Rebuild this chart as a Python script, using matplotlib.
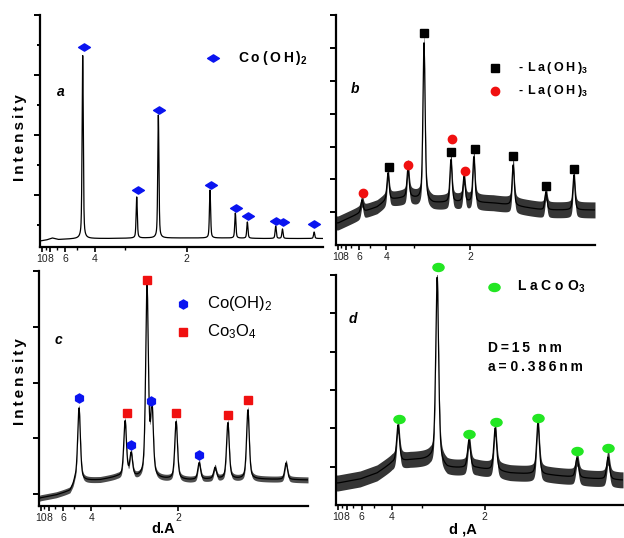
import numpy as np
import matplotlib
matplotlib.use('Agg')
import matplotlib.pyplot as plt
from matplotlib.path import Path

plt.rcParams['font.family'] = ['Liberation Sans', 'DejaVu Sans']
plt.rcParams['mathtext.fontset'] = 'custom'
plt.rcParams['mathtext.rm'] = 'Liberation Sans'
plt.rcParams['mathtext.bf'] = 'Liberation Sans:bold'
plt.rcParams['mathtext.it'] = 'Liberation Sans:italic'

# ---------------- data ----------------
WAVELENGTH = 1.5406                 # Cu K-alpha, Angstrom
X_RANGE = (8.41, 79.6)              # 2-theta range, degrees
d_major = [10, 8, 6, 4, 2]
d_major_labels = ['10', '8', '6', '4', '2']
d_minor = [9, 7, 5, 3]

# panel a : Co(OH)2
a_bg_pos = [8.4, 10.0, 11.5, 13.0, 16.0, 19.0, 25.0, 35.0, 45.0, 55.0, 65.0, 79.6]
a_bg_int = [6.0, 7.0, 9.0, 7.5, 8.0, 8.5, 8.5, 9.0, 9.0, 9.0, 8.5, 8.5]
a_peak_pos = [19.15, 32.74, 38.18, 51.18, 57.55, 60.57, 67.70, 69.40, 77.37]
a_peak_int = [192, 50, 132, 57, 34, 25, 21, 18, 15]
a_mark_pos = [19.48, 33.06, 38.35, 51.35, 57.65, 60.67, 67.79, 69.47, 77.35]
a_mark_int = [200, 57, 137, 62, 39, 31, 26, 25, 23]

# panel b : La(OH)3 (two sets)
b_bg_pos = [8.4, 9.0, 15.0, 19.7, 22.4, 28.7, 35.1, 42.5, 51.6, 56.2, 65.3, 72.7, 79.6]
b_bg_int = [22, 22, 32, 38, 45, 48, 42, 43, 42, 40, 35, 35, 35]
b_noise = [7, 7, 7, 7, 7, 8, 7, 8, 8, 8, 8, 8, 8]
b_peak_pos = [15.56, 22.70, 28.20, 32.60, 40.00, 43.60, 46.30, 57.10, 66.10, 73.80]
b_peak_int = [45, 72, 77, 202, 85, 68, 88, 80, 53, 70]
b_sq_pos = [22.98, 32.60, 40.00, 46.60, 57.06, 66.10, 73.80]
b_sq_int = [78, 212, 93, 96, 89, 59, 76]
b_dot_pos = [15.83, 28.20, 40.30, 43.90]
b_dot_int = [52, 80, 106, 74]

# panel c : Co(OH)2 + Co3O4
c_bg_pos = [8.4, 8.7, 13.0, 16.6, 17.4, 17.9, 24.6, 29.1, 40.4, 48.4, 55.0, 64.3, 79.6]
c_bg_int = [7, 8, 11, 15, 20, 25, 26, 29, 27, 26, 27, 27, 26]
c_noise = [3, 3, 3, 3, 3, 3, 3, 3, 3, 3, 3, 3, 3]
c_peak_pos = [19.00, 31.20, 32.80, 37.00, 38.30, 44.70, 50.80, 55.00, 58.40, 63.70, 73.80]
c_peak_int = [98, 84, 51, 218, 96, 84, 43, 38, 83, 96, 43]
c_hex_pos = [19.00, 32.80, 38.05, 50.80]
c_hex_int = [108, 61, 105, 51]
c_sq_pos = [31.70, 37.00, 44.70, 58.40, 63.70]
c_sq_int = [93, 226, 93, 91, 106]

# panel d : LaCoO3
d_bg_pos = [8.4, 8.9, 14.4, 18.6, 22.3, 26.8, 31.7, 36.0, 43.4, 51.6, 61.5, 69.7, 78.9, 79.6]
d_bg_int = [22, 22, 26, 32, 42, 45, 46, 37, 37, 32, 30, 27, 25, 25]
d_noise = [8, 8, 8, 8, 8, 8, 8, 8, 8, 8, 8, 8, 8, 8]
d_peak_pos = [23.80, 33.50, 41.40, 47.90, 58.50, 68.20, 75.90]
d_peak_int = [80, 228, 65, 77, 82, 47, 48]
d_mark_pos = [24.05, 33.70, 41.40, 48.10, 58.50, 68.20, 75.90]
d_mark_int = [86, 238, 71, 83, 87, 54, 57]

# ---------------- helpers ----------------
W, H = 624, 538
TS = '\u2009'


def two_theta(d):
    return 2 * np.degrees(np.arcsin(WAVELENGTH / (2 * np.asarray(d, float))))


def rect(l, t, r, b):
    return [l / W, 1 - b / H, (r - l) / W, (b - t) / H]


def profile(x, x0, fwhm):
    u = (x - x0) / (fwhm / 2)
    return 0.5 / (1 + u ** 2) + 0.5 * np.exp(-np.log(2) * u ** 2)


def trace(bg_pos, bg_int, pk_pos, pk_int, fwhm):
    x = np.linspace(X_RANGE[0], X_RANGE[1], 3000)
    y = np.interp(x, bg_pos, bg_int)
    for p, h in zip(pk_pos, pk_int):
        y = y + (h - np.interp(p, bg_pos, bg_int)) * profile(x, p, fwhm)
    return x, y


def spaced(s):
    return TS.join(s)


def setup(ax, height, yticks_major, yticks_minor=None):
    ax.set_xlim(*X_RANGE)
    ax.set_ylim(0, height)
    for s in ['top', 'right']:
        ax.spines[s].set_visible(False)
    for s in ['left', 'bottom']:
        ax.spines[s].set_linewidth(1.6)
    ax.set_xticks(two_theta(d_major))
    ax.set_xticklabels(d_major_labels)
    ax.set_xticks(two_theta(d_minor), minor=True)
    ax.set_yticks(yticks_major)
    ax.set_yticklabels([])
    if yticks_minor is not None:
        ax.set_yticks(yticks_minor, minor=True)
    ax.tick_params(axis='x', which='major', length=3.5, width=1.2, labelsize=7.5,
                   pad=1.5, labelcolor='#222222')
    ax.tick_params(axis='x', which='minor', length=2.5, width=1.0)
    ax.tick_params(axis='y', which='major', length=4.5, width=1.4)
    ax.tick_params(axis='y', which='minor', length=2.5, width=1.4)


fig = plt.figure(figsize=(W / 100, H / 100), dpi=100)

# ---------------- panel a ----------------
axa = fig.add_axes(rect(40, 15, 323, 247))
setup(axa, 232, [52, 112, 172, 232], [22, 82, 142, 202])
x, y = trace(a_bg_pos, a_bg_int, a_peak_pos, a_peak_int, 0.35)
axa.plot(x, y, color='black', lw=0.9)
diamond = Path([(-1, 0), (0, 0.62), (1, 0), (0, -0.62), (-1, 0)],
               [Path.MOVETO, Path.LINETO, Path.LINETO, Path.LINETO, Path.CLOSEPOLY])
axa.plot(a_mark_pos, a_mark_int, ls='none', marker=diamond, ms=8.5, color='#0a14f0', clip_on=False)
axa.plot([0.61], [0.813], transform=axa.transAxes, marker=diamond, ms=8.5, color='#0a14f0', ls='none')
axa.text(0.70, 0.813, spaced('Co(OH)') + r'$_\mathbf{2}$', transform=axa.transAxes,
         fontsize=10, fontweight='bold', va='center', ha='left')
axa.text(0.074, 0.668, 'a', transform=axa.transAxes, fontsize=10, fontweight='bold',
         fontstyle='italic', va='center', ha='center')

# ---------------- panel b ----------------
axb = fig.add_axes(rect(336, 15, 595, 245))
setup(axb, 230, [32.8 * k for k in range(1, 8)])
x, y = trace(b_bg_pos, b_bg_int, b_peak_pos, b_peak_int, 0.7)
nb = np.interp(x, b_bg_pos, b_noise)
axb.fill_between(x, y - nb, y + nb, color='#111111', alpha=0.85, lw=0)
axb.plot(x, y, color='black', lw=0.9)
axb.plot(b_sq_pos, b_sq_int, ls='none', marker='s', ms=5.5, color='black', clip_on=False)
axb.plot(b_dot_pos, b_dot_int, ls='none', marker='o', ms=6, color='#f01010', clip_on=False)
axb.plot([0.614], [0.770], transform=axb.transAxes, marker='s', ms=5.5, color='black', ls='none')
axb.plot([0.614], [0.670], transform=axb.transAxes, marker='o', ms=6, color='#f01010', ls='none')
for yy in (0.770, 0.670):
    axb.text(0.703, yy, '-' + TS * 2 + spaced('La(OH)') + r'$_\mathbf{3}$', transform=axb.transAxes,
             fontsize=9, fontweight='bold', va='center', ha='left')
axb.text(0.073, 0.678, 'b', transform=axb.transAxes, fontsize=10, fontweight='bold',
         fontstyle='italic', va='center', ha='center')

# ---------------- panel c ----------------
axc = fig.add_axes(rect(39, 271, 308, 506))
setup(axc, 235, [12 + 55.75 * k for k in range(5)])
x, y = trace(c_bg_pos, c_bg_int, c_peak_pos, c_peak_int, 0.85)
nc = np.interp(x, c_bg_pos, c_noise)
axc.fill_between(x, y - nc, y + nc, color='#111111', alpha=0.75, lw=0)
axc.plot(x, y, color='black', lw=0.9)
axc.plot(c_hex_pos, c_hex_int, ls='none', marker='h', ms=6.5, color='#0a14f0', clip_on=False)
axc.plot(c_sq_pos, c_sq_int, ls='none', marker='s', ms=5.5, color='#f01010', clip_on=False)
axc.plot([0.535], [0.860], transform=axc.transAxes, marker='h', ms=6.5, color='#0a14f0', ls='none')
axc.plot([0.535], [0.740], transform=axc.transAxes, marker='s', ms=5.5, color='#f01010', ls='none')
axc.text(0.625, 0.860, r'Co(OH)$_2$', transform=axc.transAxes, fontsize=12, va='center', ha='left')
axc.text(0.625, 0.740, r'Co$_3$O$_4$', transform=axc.transAxes, fontsize=12,
         va='center', ha='left')
axc.text(0.074, 0.706, 'c', transform=axc.transAxes, fontsize=10, fontweight='bold',
         fontstyle='italic', va='center', ha='center')

# ---------------- panel d ----------------
axd = fig.add_axes(rect(336, 275, 623, 505))
setup(axd, 230, [38.4 * k for k in range(1, 7)])
x, y = trace(d_bg_pos, d_bg_int, d_peak_pos, d_peak_int, 0.85)
nd = np.interp(x, d_bg_pos, d_noise)
axd.fill_between(x, y - nd, y + nd, color='#111111', alpha=0.85, lw=0)
axd.plot(x, y, color='black', lw=0.9)
ellipse = Path.unit_circle()
ellipse = Path(ellipse.vertices * [1.0, 0.72], ellipse.codes)
axd.plot(d_mark_pos, d_mark_int, ls='none', marker=ellipse, ms=8, color='#22e622', clip_on=False)
axd.plot([0.551], [0.948], transform=axd.transAxes, marker=ellipse, ms=8, color='#22e622', ls='none')
axd.text(0.631, 0.948, ' '.join('LaCoO') + r'$_\mathbf{3}$', transform=axd.transAxes,
         fontsize=10, fontweight='bold', va='center', ha='left')
axd.text(0.530, 0.683, spaced('D=15') + TS * 3 + spaced('nm'), transform=axd.transAxes,
         fontsize=10, fontweight='bold', va='center', ha='left')
axd.text(0.530, 0.600, spaced('a=') + ' ' + spaced('0.386nm'), transform=axd.transAxes,
         fontsize=10, fontweight='bold', va='center', ha='left')
axd.text(0.059, 0.809, 'd', transform=axd.transAxes, fontsize=10, fontweight='bold',
         fontstyle='italic', va='center', ha='center')

# ---------------- axis titles ----------------
for yc in (138, 382):
    fig.text(20 / W, 1 - yc / H, spaced('Intensity'), rotation=90, fontsize=11,
             fontweight='bold', va='center', ha='center')
fig.text(163 / W, 2 / H, 'd.A', fontsize=10.5, fontweight='bold',
         va='bottom', ha='center')
fig.text(463 / W, 2 / H, 'd ,A', fontsize=10.5, fontweight='bold',
         va='bottom', ha='center')

fig.savefig('out.png', dpi=100)
